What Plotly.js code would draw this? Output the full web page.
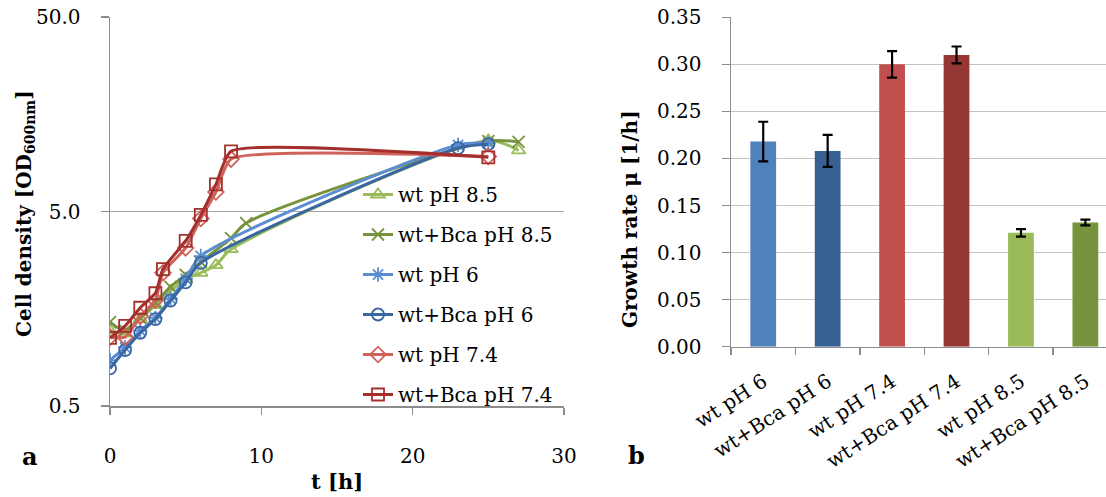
<!DOCTYPE html>
<html>
<head>
<meta charset="utf-8">
<script src="https://cdn.plot.ly/plotly-3.0.1.min.js"></script>
<style>
  html, body { margin: 0; padding: 0; background: #fff; }
  #chart { width: 1106px; height: 497px; }
</style>
</head>
<body>
<div id="chart"></div>
<script>
// ---- Panel a: growth curves (OD600 vs time) ----
const tRed = [0, 1, 2, 3, 3.5, 5, 6, 7, 8, 25];
const odWt74 = [1.13, 1.13, 1.45, 1.75, 2.42, 3.25, 4.6, 6.3, 9.3, 9.6];
const odBca74 = [1.12, 1.29, 1.6, 1.9, 2.53, 3.53, 4.8, 6.9, 10.2, 9.5];

const tBlue = [0, 1, 2, 3, 4, 5, 6, 23, 25];
const odWt6 = [0.86, 1.0, 1.22, 1.42, 1.78, 2.25, 2.95, 11.0, 11.2];
const odBca6 = [0.78, 0.97, 1.19, 1.4, 1.74, 2.16, 2.72, 10.6, 11.1];

const tGreenWt = [0, 1, 2, 3, 4, 5, 6, 7, 8, 25, 27];
const odWt85 = [1.22, 1.18, 1.4, 1.65, 1.95, 2.25, 2.42, 2.65, 3.2, 11.6, 10.3];
const tGreenBca = [0, 1, 2, 3, 4, 5, 6, 8, 9, 25, 27];
const odBca85 = [1.35, 1.22, 1.42, 1.7, 2.05, 2.36, 2.75, 3.65, 4.36, 11.5, 11.4];

const odTicks = [0.5, 5, 50];
const odTickText = ["0.5", "5.0", "50.0"];
const timeTicks = [0, 10, 20, 30];

// ---- Panel b: growth rates ----
const strains = ["wt pH 6", "wt+Bca pH 6", "wt pH 7.4", "wt+Bca pH 7.4", "wt pH 8.5", "wt+Bca pH 8.5"];
const rates = [0.218, 0.208, 0.300, 0.310, 0.121, 0.132];
const rateErr = [0.021, 0.017, 0.014, 0.009, 0.004, 0.003];
const rateTicks = [0, 0.05, 0.10, 0.15, 0.20, 0.25, 0.30, 0.35];

const barColors = ["#4F81BD", "#376092", "#C0504D", "#953735", "#9BBB59", "#77933C"];

const FONT = "DejaVu Serif";
const W = 1106, H = 497;
const px = v => v / W;
const py = v => 1 - v / H;

function curve(name, t, od, color, symbol, group, smooth) {
  return {
    type: "scatter", mode: "lines+markers", name: name,
    x: t, y: od, xaxis: "x", yaxis: "y",
    legendgroup: group,
    line: { color: color, width: 3, shape: "spline", smoothing: smooth },
    marker: { symbol: symbol, size: 12, color: color, line: { color: color, width: 1.8 } }
  };
}

const traces = [
  curve("wt pH 8.5", tGreenWt, odWt85, "#9BBB59", "triangle-up-open", "g1", 0.75),
  curve("wt+Bca pH 8.5", tGreenBca, odBca85, "#77933C", "x-thin-open", "g2", 0.75),
  curve("wt pH 6", tBlue, odWt6, "#5B8ED0", "asterisk-open", "g3", 0.75),
  curve("wt+Bca pH 6", tBlue, odBca6, "#3A67A3", "circle-open", "g4", 0.75),
  curve("wt pH 7.4", tRed, odWt74, "#D0625C", "diamond-open", "g5", 0.5),
  curve("wt+Bca pH 7.4", tRed, odBca74, "#A3302D", "square-open", "g6", 0.5),
  {
    type: "bar", x: strains, y: rates, xaxis: "x2", yaxis: "y2",
    showlegend: false, width: 0.4,
    marker: { color: barColors, line: { width: 0 } },
    error_y: { type: "data", array: rateErr, visible: true, color: "#000", thickness: 2.2, width: 5 }
  }
];

const axisGrey = "#8C8C8C";

const layout = {
  width: W, height: H,
  margin: { l: 0, r: 0, t: 0, b: 0 },
  paper_bgcolor: "#fff", plot_bgcolor: "rgba(0,0,0,0)",
  font: { family: FONT, size: 20, color: "#000" },
  showlegend: true,
  legend: {
    x: px(358), y: py(175), xanchor: "left", yanchor: "top",
    bgcolor: "rgba(0,0,0,0)", borderwidth: 0,
    font: { family: FONT, size: 20, color: "#000" },
    tracegroupgap: 11, itemwidth: 30
  },
  xaxis: {
    domain: [px(110), px(564)], anchor: "y",
    range: [0, 30], tickvals: timeTicks,
    showgrid: false, zeroline: false,
    showline: true, linecolor: axisGrey, linewidth: 1.5,
    ticks: "outside", ticklen: 7, tickcolor: axisGrey, tickwidth: 1.5,
    ticklabelstandoff: 24,
    tickfont: { family: FONT, size: 20 }
  },
  yaxis: {
    domain: [py(406), py(17)], anchor: "x",
    type: "log", range: [Math.log10(0.5), Math.log10(50)],
    tickvals: odTicks, ticktext: odTickText,
    showgrid: true, gridcolor: "#A6A6A6", gridwidth: 1.5, zeroline: false,
    showline: true, linecolor: axisGrey, linewidth: 1.5,
    ticks: "outside", ticklen: 8, tickcolor: axisGrey, tickwidth: 1.5,
    ticklabelstandoff: 16,
    tickfont: { family: FONT, size: 20 }
  },
  xaxis2: {
    domain: [px(731), 1], anchor: "y2",
    type: "category", range: [-0.5, 5.32],
    tickson: "boundaries",
    showgrid: false, zeroline: false,
    showline: true, linecolor: axisGrey, linewidth: 1.5,
    ticks: "outside", ticklen: 7, tickcolor: axisGrey, tickwidth: 1.5,
    tickangle: -33, ticklabelstandoff: 14,
    tickfont: { family: FONT, size: 20 }
  },
  yaxis2: {
    domain: [py(346.7), py(17.3)], anchor: "x2",
    range: [0, 0.35], tickvals: rateTicks, tickformat: ".2f",
    showgrid: true, gridcolor: "#C4C4C4", gridwidth: 1.5, zeroline: false,
    showline: true, linecolor: axisGrey, linewidth: 1.5,
    ticks: "outside", ticklen: 8, tickcolor: axisGrey, tickwidth: 1.5,
    ticklabelstandoff: 16,
    tickfont: { family: FONT, size: 20 }
  },
  annotations: [
    { text: "<b>Cell density [OD<sub>600nm</sub>]</b>", textangle: -90,
      xref: "paper", yref: "paper", x: px(25), y: py(214),
      xanchor: "center", yanchor: "middle", showarrow: false,
      font: { family: FONT, size: 20 } },
    { text: "<b>t [h]</b>",
      xref: "paper", yref: "paper", x: px(337), y: py(481),
      xanchor: "center", yanchor: "middle", showarrow: false,
      font: { family: FONT, size: 21 } },
    { text: "<b>Growth rate μ [1/h]</b>", textangle: -90,
      xref: "paper", yref: "paper", x: px(630), y: py(219),
      xanchor: "center", yanchor: "middle", showarrow: false,
      font: { family: FONT, size: 20 } },
    { text: "<b>a</b>",
      xref: "paper", yref: "paper", x: px(30), y: py(456),
      xanchor: "center", yanchor: "middle", showarrow: false,
      font: { family: FONT, size: 24 } },
    { text: "<b>b</b>",
      xref: "paper", yref: "paper", x: px(636), y: py(455),
      xanchor: "center", yanchor: "middle", showarrow: false,
      font: { family: FONT, size: 24 } }
  ]
};

Plotly.newPlot("chart", traces, layout, { staticPlot: true, displayModeBar: false });
</script>
</body>
</html>
